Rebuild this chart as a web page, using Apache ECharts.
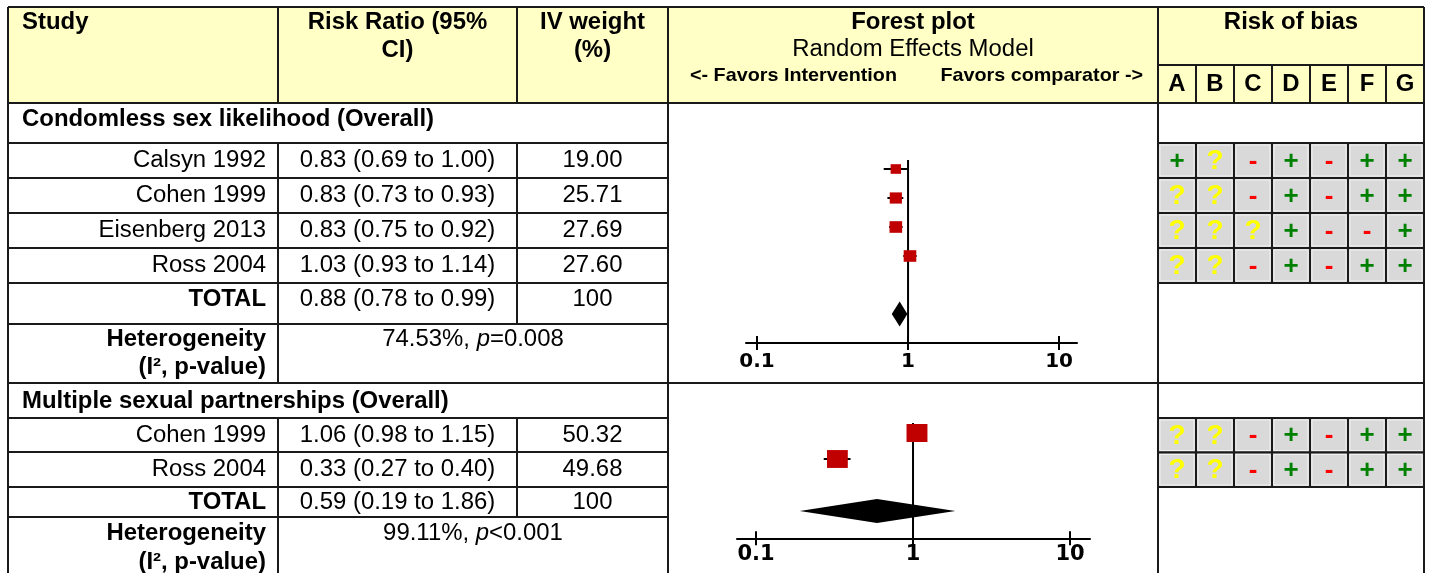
<!DOCTYPE html>
<html><head><meta charset="utf-8">
<script src="https://cdn.jsdelivr.net/npm/echarts@6/dist/echarts.min.js"></script>
<style>html,body{margin:0;padding:0;background:#fff}#c{width:1429px;height:573px}</style>
</head><body><div id="c"></div>
<script>
// ---------- data ----------
const sectionTitles = ['Condomless sex likelihood (Overall)', 'Multiple sexual partnerships (Overall)'];
const studiesA = ['Calsyn 1992', 'Cohen 1999', 'Eisenberg 2013', 'Ross 2004'];
const rrA = [0.83, 0.83, 0.83, 1.03];
const loA = [0.69, 0.73, 0.75, 0.93];
const hiA = [1.00, 0.93, 0.92, 1.14];
const weightA = [19.00, 25.71, 27.69, 27.60];
const totalA = [0.88, 0.78, 0.99];
const hetA = ['74.53%', '=0.008'];
const studiesB = ['Cohen 1999', 'Ross 2004'];
const rrB = [1.06, 0.33];
const loB = [0.98, 0.27];
const hiB = [1.15, 0.40];
const weightB = [50.32, 49.68];
const totalB = [0.59, 0.19, 1.86];
const hetB = ['99.11%', '<0.001'];
const totalWeight = '100';
const robLetters = ['A', 'B', 'C', 'D', 'E', 'F', 'G'];
const robA = [
  ['+', '?', '-', '+', '-', '+', '+'],
  ['?', '?', '-', '+', '-', '+', '+'],
  ['?', '?', '?', '+', '-', '-', '+'],
  ['?', '?', '-', '+', '-', '+', '+']
];
const robB = [
  ['?', '?', '-', '+', '-', '+', '+'],
  ['?', '?', '-', '+', '-', '+', '+']
];
const axisTickValues = [0.1, 1, 10];

// ---------- styles ----------
const LINE = '#1a1a1a';
const FF = '"Liberation Sans", Arial, sans-serif';
const F = '23px ' + FF;
const FB = 'bold 23px ' + FF;
const SX = 1.04;
const g = [];
function hl(y, x1, x2) { g.push({ type: 'line', z: 1, shape: { x1: x1, y1: y, x2: x2, y2: y }, style: { stroke: LINE, lineWidth: 2 } }); }
function vl(x, y1, y2) { g.push({ type: 'line', z: 1, shape: { x1: x, y1: y1, x2: x, y2: y2 }, style: { stroke: LINE, lineWidth: 2 } }); }
function tx(x, y, text, font, align, rich) {
  const st = { text: text, font: font || F, fill: '#000', align: align || 'center', verticalAlign: 'middle' };
  if (rich) st.rich = rich;
  g.push({ type: 'text', z: 1, x: x, y: y + 1, scaleX: SX, style: st });
}
const fmt = v => v.toFixed(2);
const ci = (r, l, h) => fmt(r) + ' (' + fmt(l) + ' to ' + fmt(h) + ')';
const richIt = { i: { font: 'italic 23px ' + FF, fill: '#000' } };

// backgrounds
g.push({ type: 'rect', z: 0, shape: { x: 8, y: 7, width: 1416, height: 96 }, style: { fill: '#ffffc6' } });

// column x positions
const X0 = 8, X1 = 278, X2 = 517, X3 = 668, X4 = 1158, X5 = 1424;
const robEdges = robLetters.map((_, i) => X4 + i * (X5 - X4) / 7);

// horizontal lines
hl(7, X0, X5); hl(65, X4, X5); hl(103, X0, X5);
[143, 178, 213, 248, 283, 324].forEach(y => hl(y, X0, X3));
[143, 283].forEach(y => hl(y, X4, X5));
hl(383, X0, X5);
[418, 452, 487, 517].forEach(y => hl(y, X0, X3));
[418, 487].forEach(y => hl(y, X4, X5));
// vertical lines
vl(X0, 7, 573); vl(X3, 7, 573); vl(X4, 7, 573); vl(X5, 7, 573);
vl(X1, 7, 103); vl(X1, 143, 383); vl(X1, 418, 573);
vl(X2, 7, 103); vl(X2, 143, 324); vl(X2, 418, 517);
robEdges.slice(1).forEach(x => vl(x, 65, 103));

// header text
tx(22, 22, 'Study', FB, 'left');
tx((X1 + X2) / 2, 22, 'Risk Ratio (95%', FB); tx((X1 + X2) / 2, 50, 'CI)', FB);
tx((X2 + X3) / 2, 22, 'IV weight', FB); tx((X2 + X3) / 2, 50, '(%)', FB);
tx((X3 + X4) / 2, 22, 'Forest plot', FB);
tx((X3 + X4) / 2, 49, 'Random Effects Model', F);
tx(690, 75, '<- Favors Intervention', 'bold 19px ' + FF, 'left');
tx(1143, 75, 'Favors comparator ->', 'bold 19px ' + FF, 'right');
tx((X4 + X5) / 2, 22, 'Risk of bias', FB);
robLetters.forEach((l, i) => tx(robEdges[i] + (X5 - X4) / 14, 84, l, FB));

// section A
tx(22, 119, sectionTitles[0], FB, 'left');
const rowTopsA = [143, 178, 213, 248];
studiesA.forEach((s, i) => {
  const y = rowTopsA[i] + 17;
  tx(266, y, s, F, 'right');
  tx((X1 + X2) / 2, y, ci(rrA[i], loA[i], hiA[i]));
  tx((X2 + X3) / 2, y, fmt(weightA[i]));
});
tx(266, 299, 'TOTAL', FB, 'right');
tx((X1 + X2) / 2, 299, ci(totalA[0], totalA[1], totalA[2]));
tx((X2 + X3) / 2, 299, totalWeight);
tx(266, 339, 'Heterogeneity', FB, 'right');
tx(266, 367, '(I\u00b2, p-value)', FB, 'right');
tx((X1 + X3) / 2, 339, hetA[0] + ', {i|p}' + hetA[1], F, 'center', richIt);

// section B
tx(22, 401, sectionTitles[1], FB, 'left');
const rowTopsB = [418, 452];
studiesB.forEach((s, i) => {
  const y = rowTopsB[i] + 17;
  tx(266, y, s, F, 'right');
  tx((X1 + X2) / 2, y, ci(rrB[i], loB[i], hiB[i]));
  tx((X2 + X3) / 2, y, fmt(weightB[i]));
});
tx(266, 502, 'TOTAL', FB, 'right');
tx((X1 + X2) / 2, 502, ci(totalB[0], totalB[1], totalB[2]));
tx((X2 + X3) / 2, 502, totalWeight);
tx(266, 533, 'Heterogeneity', FB, 'right');
tx(266, 562, '(I\u00b2, p-value)', FB, 'right');
tx((X1 + X3) / 2, 533, hetB[0] + ', {i|p}' + hetB[1], F, 'center', richIt);

// ---------- chart pieces ----------
function studyRender(k, hr) {
  return function (params, api) {
    const row = api.value(1);
    const p = api.coord([api.value(0), row]);
    const a = api.coord([api.value(2), row]);
    const b = api.coord([api.value(3), row]);
    const w = k * Math.sqrt(api.value(4)), h = w * hr;
    return { type: 'group', children: [
      { type: 'line', shape: { x1: a[0], y1: a[1], x2: b[0], y2: b[1] }, style: { stroke: '#000', lineWidth: 2 } },
      { type: 'rect', shape: { x: p[0] - w / 2, y: p[1] - h / 2, width: w, height: h }, style: { fill: '#c00000' } }
    ] };
  };
}
function diamondRender(hh) {
  return function (params, api) {
    const row = api.value(1);
    const c = api.coord([api.value(0), row]);
    const l = api.coord([api.value(2), row]);
    const r = api.coord([api.value(3), row]);
    return { type: 'polygon', shape: { points: [[l[0], c[1]], [c[0], c[1] - hh], [r[0], c[1]], [c[0], c[1] + hh]] }, style: { fill: '#000' } };
  };
}
const symColor = { '+': '#008000', '?': '#ffff00', '-': '#ff0000' };
function robRender(flat) {
  return function (params, api) {
    const c = api.coord([api.value(0), api.value(1)]);
    const s = api.size([1, 1]);
    const sym = flat[params.dataIndex][2];
    return { type: 'group', children: [
      { type: 'rect', shape: { x: c[0] - s[0] / 2, y: c[1] - s[1] / 2, width: s[0], height: s[1] }, style: { fill: '#d9d9d9', stroke: LINE, lineWidth: 2 } },
      { type: 'rect', shape: { x: c[0] - s[0] / 2 + 2, y: c[1] - s[1] / 2 + 2, width: s[0] - 4, height: s[1] - 4 }, style: { fill: 'none', stroke: '#f0f0f0', lineWidth: 1 } },
      { type: 'text', x: c[0], y: c[1] + 1, style: { text: sym, font: 'bold ' + (sym === '?' ? 28 : 26) + 'px ' + FF, fill: symColor[sym], align: 'center', verticalAlign: 'middle' } }
    ] };
  };
}
const flatA = [], flatB = [];
robA.forEach((r, ri) => r.forEach((s, ci2) => flatA.push([ci2, ri, s])));
robB.forEach((r, ri) => r.forEach((s, ci2) => flatB.push([ci2, ri, s])));

function logAxis(grid, min, max, inside, fs, margin) {
  return {
    type: 'log', logBase: 10, gridIndex: grid, min: min, max: max, position: 'bottom',
    axisLine: { show: !inside, onZero: false, lineStyle: { color: '#000', width: 2 } },
    axisTick: { show: true, inside: inside, length: 7, customValues: axisTickValues, lineStyle: { color: '#000', width: 2 } },
    axisLabel: inside ? { show: false } : { show: true, customValues: axisTickValues, color: '#000', fontFamily: 'DejaVu Sans', fontWeight: 'bold', fontSize: fs, margin: margin, formatter: v => String(Math.round(v * 10) / 10) },
    splitLine: { show: false }
  };
}
const hiddenVal = (grid, max) => ({ type: 'value', gridIndex: grid, min: 0, max: max, inverse: true, show: false });
const catX = grid => ({ type: 'category', gridIndex: grid, data: robLetters, show: false });
const catY = (grid, n) => ({ type: 'category', gridIndex: grid, data: Array.from({ length: n }, (_, i) => String(i)), inverse: true, show: false });

const option = {
  animation: false,
  backgroundColor: '#fff',
  graphic: g,
  grid: [
    { left: 746, top: 140, width: 331, height: 203 },
    { left: 737, top: 407, width: 353, height: 131.3 },
    { left: X4, top: 143, width: X5 - X4, height: 140 },
    { left: X4, top: 418, width: X5 - X4, height: 69 }
  ],
  xAxis: [
    logAxis(0, 0.0845, 13.15, false, 20, 9),
    logAxis(0, 0.0845, 13.15, true),
    logAxis(1, 0.0757, 13.4, false, 21, 6),
    logAxis(1, 0.0757, 13.4, true),
    catX(2), catX(3)
  ],
  yAxis: [hiddenVal(0, 7), hiddenVal(1, 5.05), catY(2, robA.length), catY(3, robB.length)],
  series: [
    { type: 'line', xAxisIndex: 0, yAxisIndex: 0, data: [[1, 0.69], [1, 7]], symbol: 'none', lineStyle: { color: '#000', width: 2 }, z: 1 },
    { type: 'custom', xAxisIndex: 0, yAxisIndex: 0, renderItem: studyRender(2.4, 0.92), z: 3,
      data: rrA.map((r, i) => [r, i + 1, loA[i], hiA[i], weightA[i]]) },
    { type: 'custom', xAxisIndex: 0, yAxisIndex: 0, renderItem: diamondRender(12.5), z: 3,
      data: [[totalA[0], studiesA.length + 2, totalA[1], totalA[2]]] },
    { type: 'line', xAxisIndex: 2, yAxisIndex: 1, data: [[1, 0.62], [1, 5.05]], symbol: 'none', lineStyle: { color: '#000', width: 2 }, z: 1 },
    { type: 'custom', xAxisIndex: 2, yAxisIndex: 1, renderItem: studyRender(2.95, 0.86), z: 3,
      data: rrB.map((r, i) => [r, i + 1, loB[i], hiB[i], weightB[i]]) },
    { type: 'custom', xAxisIndex: 2, yAxisIndex: 1, renderItem: diamondRender(12), z: 3,
      data: [[totalB[0], studiesB.length + 2, totalB[1], totalB[2]]] },
    { type: 'custom', xAxisIndex: 4, yAxisIndex: 2, renderItem: robRender(flatA), data: flatA.map(d => [d[0], d[1]]) },
    { type: 'custom', xAxisIndex: 5, yAxisIndex: 3, renderItem: robRender(flatB), data: flatB.map(d => [d[0], d[1]]) }
  ]
};
const chart = echarts.init(document.getElementById('c'));
chart.setOption(option);
</script>
</body></html>
